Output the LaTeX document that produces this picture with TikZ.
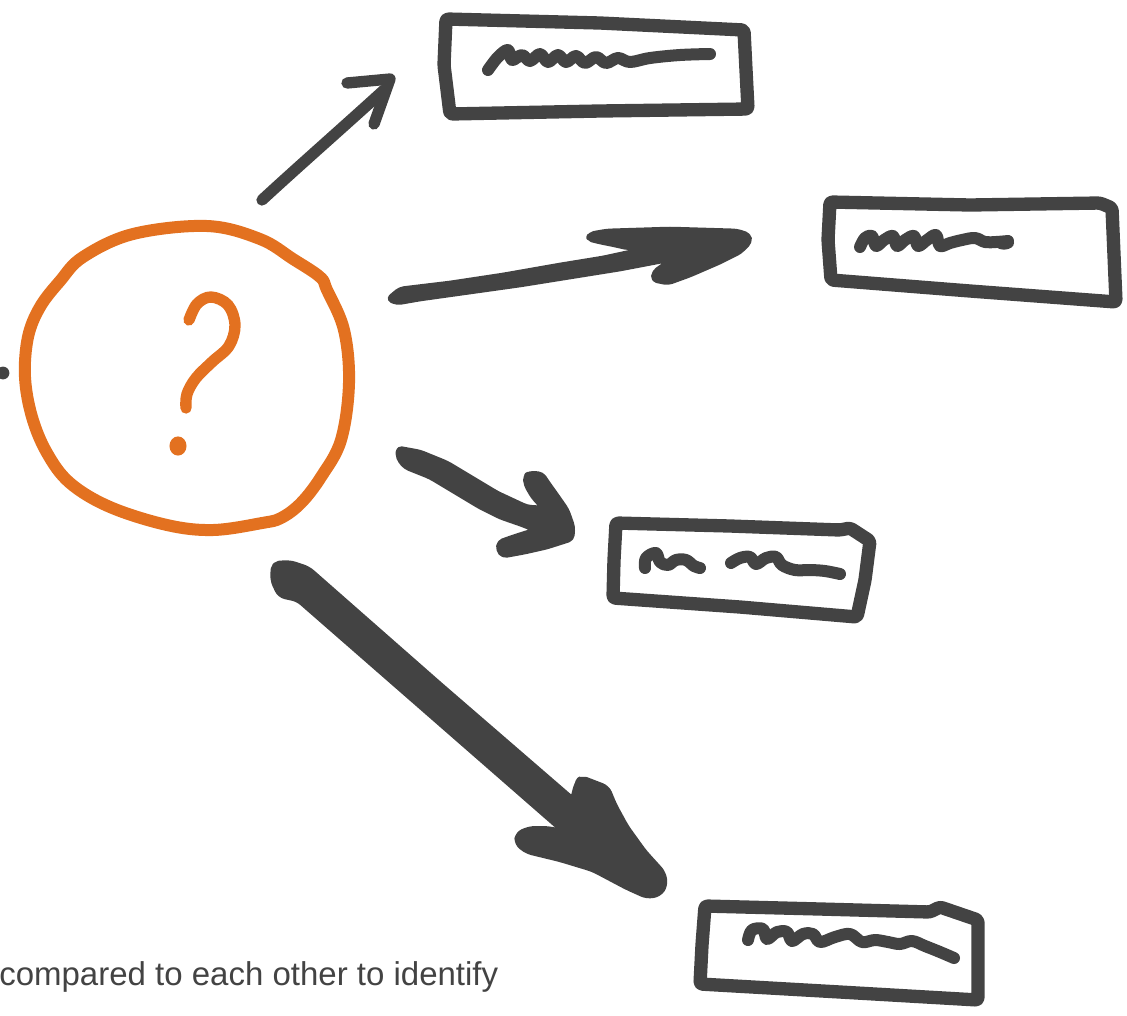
\documentclass[tikz,border=0pt]{standalone}
\usepackage{fontspec}
\setmainfont{Liberation Sans}
\definecolor{ink}{RGB}{67,67,67}
\definecolor{marker}{RGB}{227,113,32}

\begin{document}
\begin{tikzpicture}[x=0.75pt,y=-0.75pt,
  frame/.style={draw=ink,line width=10pt,line join=round,line cap=round,rounded corners=2pt},
  scribble/.style={draw=ink,line width=9pt,line cap=round,line join=round},
  brushline/.style={draw=ink,line width=8.5pt,line cap=round,line join=round},
  brushfill/.style={fill=ink,draw=ink,line width=3.5pt,line join=round,rounded corners=3pt},
  ring/.style={draw=marker,line width=9pt,line join=round},
]
\useasboundingbox (0,0) rectangle (1127,1015);

% stray dot at the left edge
\fill[ink] (3,373) circle[radius=4.8pt];

% hand-drawn circle with question mark
\draw[ring] plot[smooth cycle, tension=0.6] coordinates {
  (207,226) (260,239) (293,259) (320,277) (327,290) (344,330) (349,383)
  (341,440) (321,477) (301,503) (281,518) (262,523) (213,530) (167,525)
  (110,507) (70,483) (47,453) (32,417) (25,377) (28,337) (40,307)
  (60,281) (83,257) (133,234)};
\draw[draw=marker,line width=8.5pt,line cap=round] plot[smooth, tension=0.6] coordinates {
  (189,320) (197,304) (211,297) (228,305) (235,325) (229,346) (212,362)
  (196,378) (187,394) (186,408)};
\fill[marker] (178,446) ellipse [x radius=6.4pt, y radius=7.2pt];

% arrow 1: thin arrow to the top box
\draw[brushline] (262,200) .. controls (300,165) and (340,130) .. (384,90);
\draw[brushline] (347,83) -- (390,79) -- (374,124);

% arrow 2: tapered arrow to the second box
\filldraw[brushfill] (388,299) -- (400,289) -- (450,283) -- (503,275) -- (560,265)
  -- (603,258) -- (640,250) -- (667,245) -- (640,246) -- (628,248) -- (615,245)
  -- (600,242) -- (588,239) -- (590,234) -- (607,231) -- (670,229) -- (737,231)
  -- (749,235) -- (750,242) -- (740,252) -- (720,262) -- (690,275) -- (668,283)
  -- (653,280) -- (654,272) -- (665,264) -- (683,257) -- (620,269) -- (570,277)
  -- (520,285) -- (470,292) -- (420,299) -- (397,303) -- cycle;

% arrow 3: curved arrow to the third box
\filldraw[brushfill] (398,448) -- (420,452) -- (447,463) -- (472,478) -- (497,493)
  -- (527,507) -- (543,508) -- (533,497) -- (526,485) -- (525,476) -- (530,473)
  -- (542,474) -- (548,483) -- (558,497) -- (567,510) -- (573,527) -- (572,539)
  -- (547,547) -- (525,552) -- (503,556) -- (498,550) -- (499,542) -- (513,537)
  -- (535,530) -- (523,525) -- (500,517) -- (480,507) -- (455,492) -- (430,477)
  -- (405,467) -- (398,458) -- cycle;

% arrow 4: heavy arrow to the bottom box
\filldraw[brushfill, line width=4.5pt, rounded corners=4pt] (274,564) -- (290,563) -- (308,569)
  -- (440,685) -- (573,800) -- (577,784) -- (581,778) -- (607,788) -- (614,805)
  -- (626,827) -- (644,852) -- (663,873) -- (665,885) -- (659,894) -- (647,896)
  -- (627,887) -- (593,869) -- (560,859) -- (527,851) -- (517,843) -- (518,834)
  -- (530,829) -- (548,829) -- (566,833) -- (432,716) -- (298,599) -- (280,595)
  -- (273,580) -- cycle;

% boxes
\draw[frame] (446,19) -- (600,23) -- (744,30) -- (746,70) -- (748,109)
  -- (600,111) -- (450,114) -- (444,65) -- cycle;
\draw[frame] (830,202) -- (970,205) -- (1100,203) -- (1112,208) -- (1114,255)
  -- (1116,302) -- (970,291) -- (831,280) -- (828,240) -- cycle;
\draw[frame] (616,523) -- (730,526) -- (840,530) -- (850,528) -- (870,541)
  -- (865,580) -- (857,617) -- (740,607) -- (613,598) -- (614,560) -- cycle;
\draw[frame] (705,906) -- (820,909) -- (930,912) -- (940,907) -- (978,920)
  -- (978,960) -- (978,1000) -- (840,992) -- (700,984) -- (702,945) -- cycle;

% scribbled placeholder text in the boxes
\draw[scribble] plot[smooth, tension=0.6] coordinates {
  (488,70) (498,57) (508,50) (512,60) (522,55) (530,61) (540,54) (548,62)
  (558,55) (566,62) (576,56) (585,63) (596,57) (606,63) (618,58) (630,62)
  (650,58) (680,55) (710,54)};
\draw[scribble] plot[smooth, tension=0.6] coordinates {
  (860,247) (865,238) (872,236) (876,246) (884,240) (893,236) (897,246)
  (905,240) (914,236) (918,246) (927,240) (936,235) (940,246) (950,243)
  (962,240) (975,238) (985,242) (996,242) (1008,241)};
\fill[ink] (1004,243) ellipse [x radius=7.5pt, y radius=5pt];
\draw[scribble] plot[smooth, tension=0.6] coordinates {
  (645,568) (646,558) (656,553) (660,562) (668,565) (676,560) (686,560)
  (694,566) (700,568)};
\draw[scribble] plot[smooth, tension=0.6] coordinates {
  (731,563) (740,558) (750,557) (756,564) (766,558) (776,557) (782,565)
  (795,570) (810,570) (825,571) (840,574)};
\draw[scribble] plot[smooth, tension=0.6] coordinates {
  (748,940) (752,930) (763,929) (767,939) (777,932) (787,932) (792,941)
  (803,934) (813,934) (820,942) (835,937) (850,934) (862,942) (875,940)
  (888,942) (900,944) (912,941) (925,946) (940,952) (954,958)};

% caption fragment
\node[anchor=base west, inner sep=0pt, text=ink,
  font=\fontsize{24.75}{30}\selectfont] (caption) at (-1,985)
  {compared to each other to identify};
\end{tikzpicture}
\end{document}
